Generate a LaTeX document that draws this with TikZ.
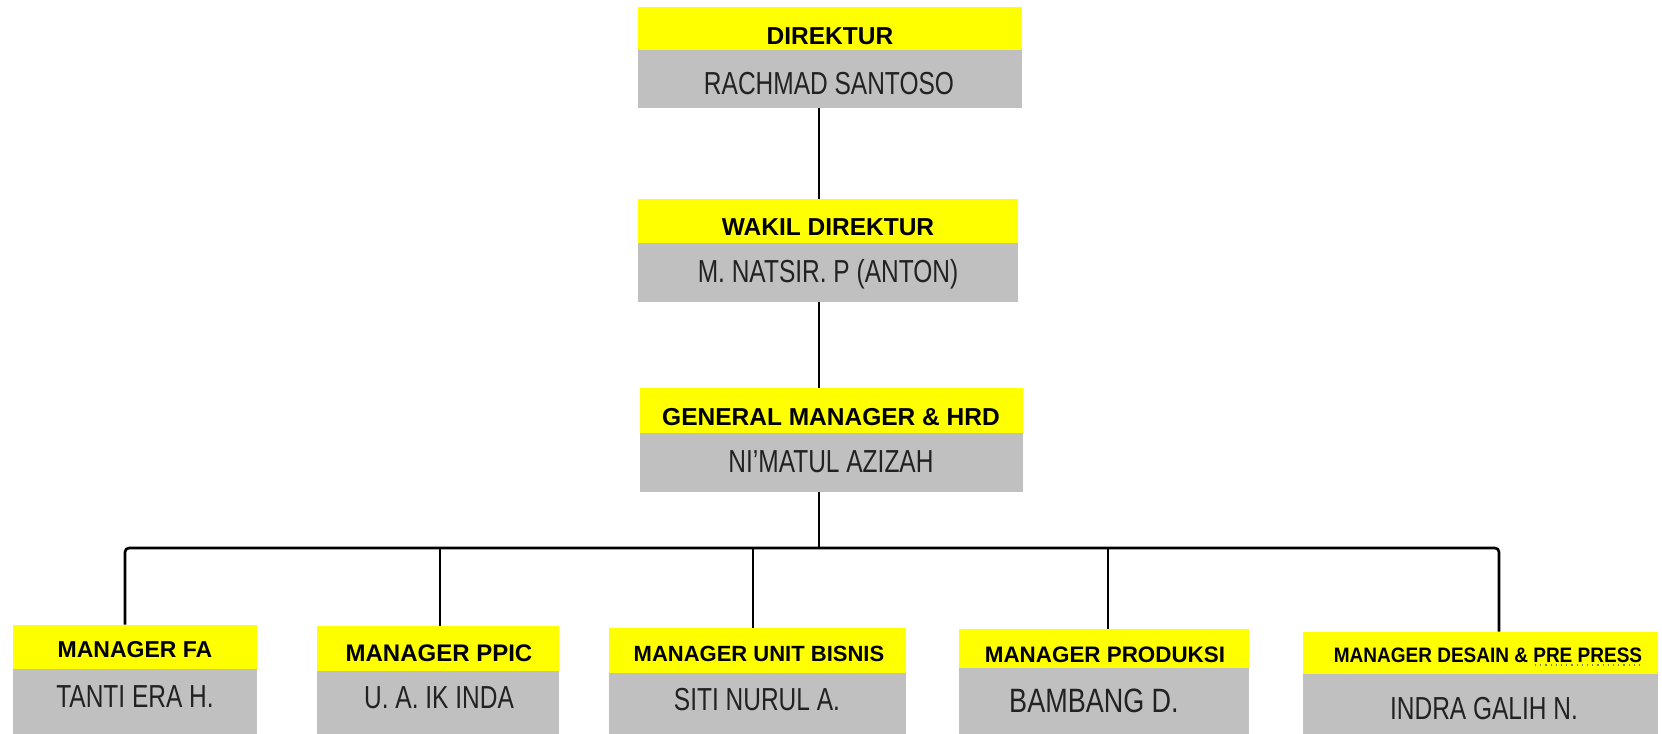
\documentclass[tikz,border=0pt]{standalone}
\usepackage{fontspec}
\usepackage{graphicx}
\setmainfont{Liberation Sans}
\usetikzlibrary{fit}
\definecolor{ybar}{RGB}{255,255,0}
\definecolor{gbar}{RGB}{192,192,192}
\definecolor{nametext}{RGB}{34,34,34}
\definecolor{squiggle}{RGB}{110,130,110}
\tikzset{
  ybox/.style={fill=ybar, draw=none, inner sep=0pt},
  gbox/.style={fill=gbar, draw=none, inner sep=0pt},
  ttl/.style={inner sep=0pt, anchor=base, text=black, font=\fontsize{12.25pt}{14pt}\selectfont\bfseries},
  nm/.style={inner sep=0pt, anchor=base, text=nametext, font=\fontsize{12.25pt}{14pt}\selectfont},
  link/.style={draw=black, line width=1.3pt},
}
\newcommand{\tallname}[1]{\scalebox{1}[1.3]{#1}}
\begin{document}
\begin{tikzpicture}[x=0.5pt,y=-0.5pt]
\useasboundingbox (0,0) rectangle (1662,734);
\fill[white] (0,0) rectangle (1662,734);

% ---- top three boxes
\node[ybox, fit={(638,7) (1022,50)}] (dir-t) {};
\node[gbox, fit={(638,50) (1022,108)}] (dir-n) {};
\node[ttl] (dir-tt) at (830,44) {DIREKTUR};
\node[nm] (dir-nt) at (829,94) {\tallname{RACHMAD SANTOSO}};

\node[ybox, fit={(638,199) (1018,243)}] (wak-t) {};
\node[gbox, fit={(638,243) (1018,302)}] (wak-n) {};
\node[ttl] (wak-tt) at (828,235) {WAKIL DIREKTUR};
\node[nm] (wak-nt) at (828,282) {\tallname{M. NATSIR. P (ANTON)}};

\node[ybox, fit={(640,388) (1023,433)}] (gm-t) {};
\node[gbox, fit={(640,433) (1023,492)}] (gm-n) {};
\node[ttl] (gm-tt) at (831,425) {GENERAL MANAGER \& HRD};
\node[nm] (gm-nt) at (831,472) {\tallname{NI’MATUL AZIZAH}};

% ---- bottom row
\node[ybox, fit={(13,625) (257,669)}] (fa-t) {};
\node[gbox, fit={(13,669) (257,734)}] (fa-n) {};
\node[ttl, font=\fontsize{11.5pt}{13pt}\selectfont\bfseries] (fa-tt) at (135,657) {MANAGER FA};
\node[nm] (fa-nt) at (135,707) {\tallname{TANTI ERA H.}};

\node[ybox, fit={(317,626) (559,671)}] (pp-t) {};
\node[gbox, fit={(317,671) (559,734)}] (pp-n) {};
\node[ttl, font=\fontsize{12pt}{14pt}\selectfont\bfseries] (pp-tt) at (439,661) {MANAGER PPIC};
\node[nm] (pp-nt) at (439,708) {\tallname{U. A. IK INDA}};

\node[ybox, fit={(609,628) (906,673)}] (ub-t) {};
\node[gbox, fit={(609,673) (906,734)}] (ub-n) {};
\node[ttl, font=\fontsize{11pt}{13pt}\selectfont\bfseries] (ub-tt) at (759,661) {MANAGER UNIT BISNIS};
\node[nm] (ub-nt) at (757,710) {\tallname{SITI NURUL A.}};

\node[ybox, fit={(959,629) (1249,668)}] (pr-t) {};
\node[gbox, fit={(959,668) (1249,734)}] (pr-n) {};
\node[ttl, font=\fontsize{11.2pt}{13pt}\selectfont\bfseries] (pr-tt) at (1105,662) {MANAGER PRODUKSI};
\node[nm, font=\fontsize{13.5pt}{15pt}\selectfont] (pr-nt) at (1094,712) {\scalebox{1}[1.25]{BAMBANG D.}};

\node[ybox, fit={(1303,632) (1658,674)}] (de-t) {};
\node[gbox, fit={(1303,674) (1658,734)}] (de-n) {};
\node[ttl, font=\fontsize{9.5pt}{11pt}\selectfont\bfseries] (de-tt) at (1488,662) {\scalebox{1}[1.1]{MANAGER DESAIN \& PRE PRESS}};
\node[nm] (de-nt) at (1484,719) {\tallname{INDRA GALIH N.}};
\draw[squiggle, dotted, line width=0.6pt] (1535,665) -- (1643,665);

% ---- connectors
\coordinate (spine) at (819,0);
\coordinate (c1) at (125,548);
\coordinate (c2) at (440,548);
\coordinate (c3) at (753,548);
\coordinate (c4) at (1108,548);
\coordinate (c5) at (1499,548);
\draw[link] (dir-n.south -| spine) -- (wak-t.north -| spine);
\draw[link] (wak-n.south -| spine) -- (gm-t.north -| spine);
\draw[link] (gm-n.south -| spine) -- (spine |- c1);
\draw[link, rounded corners=2pt] (fa-t.north -| c1) -- (c1) -- (c5) -- (de-t.north -| c5);
\draw[link] (c2) -- (pp-t.north -| c2);
\draw[link] (c3) -- (ub-t.north -| c3);
\draw[link] (c4) -- (pr-t.north -| c4);
\end{tikzpicture}
\end{document}
